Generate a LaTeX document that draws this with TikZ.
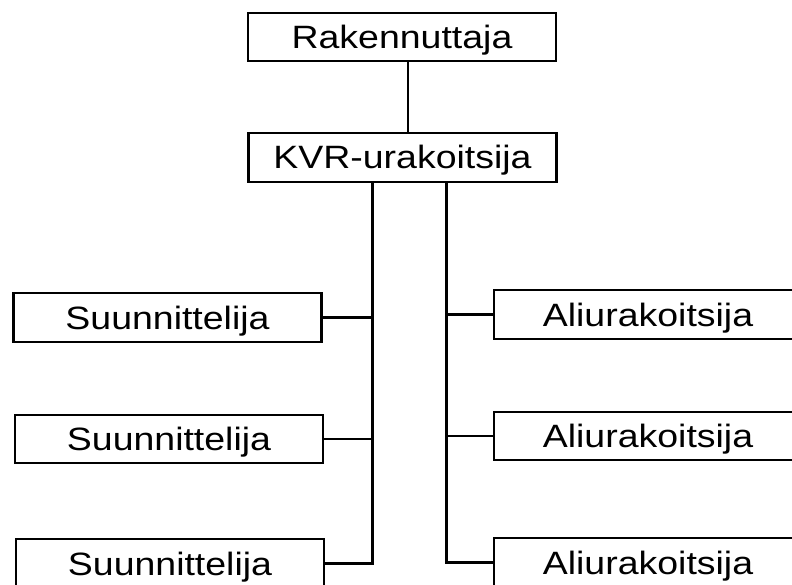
\documentclass[tikz,border=0pt]{standalone}
\usepackage{fontspec}
\setmainfont{Liberation Sans}
\newcommand{\wide}[1]{\scalebox{1.16}[1]{#1}}
\begin{document}
\begin{tikzpicture}[x=1pt,y=-1pt,
  orgbox/.style={draw=black, line width=2.1pt, fill=white, inner sep=0pt,
    minimum height=48.5pt, minimum width=308pt,
    text height=23pt, text depth=0pt,
    font=\fontsize{32.3}{32}\selectfont},
  link/.style={draw=black, line width=2.1pt}]
  \useasboundingbox (0,0) rectangle (792,585);
  \clip (0,0) rectangle (792,585);
  \fill[white] (0,0) rectangle (792,585);

  % top of the hierarchy
  \node[orgbox] (rak) at (402,37) {\wide{Rakennuttaja}};
  \node[orgbox] (kvr) at (402.5,157.5) {\wide{KVR-urakoitsija}};

  % designers on the left
  \node[orgbox] (s1) at (167.5,317.5) {\wide{Suunnittelija}};
  \node[orgbox] (s2) at (169,439) {\wide{Suunnittelija}};
  \node[orgbox] (s3) at (170,563.5) {\wide{Suunnittelija}};

  % subcontractors on the right
  \node[orgbox] (a1) at (648,314.5) {\wide{Aliurakoitsija}};
  \node[orgbox] (a2) at (648,436) {\wide{Aliurakoitsija}};
  \node[orgbox] (a3) at (648,562.5) {\wide{Aliurakoitsija}};

  % bus lines
  \coordinate (tx) at (408,0);
  \coordinate (lx) at (372.5,0);
  \coordinate (rx) at (446.5,0);

  \draw[link] (rak.south -| tx) -- (kvr.north -| tx);

  \draw[link] (kvr.south -| lx) |- (s3.east);
  \draw[link] (s1.east) -- (s1.east -| lx);
  \draw[link] (s2.east) -- (s2.east -| lx);

  \draw[link] (kvr.south -| rx) |- (a3.west);
  \draw[link] (a1.west) -- (a1.west -| rx);
  \draw[link] (a2.west) -- (a2.west -| rx);
\end{tikzpicture}
\end{document}
